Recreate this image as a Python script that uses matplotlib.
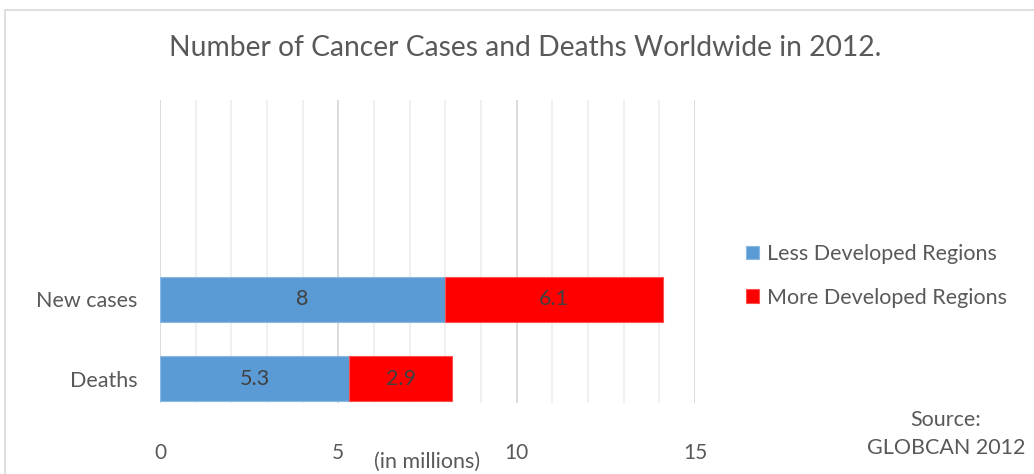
import matplotlib.pyplot as plt
from matplotlib.patches import Rectangle

categories = ["Deaths", "New cases"]
less_developed = [5.3, 8]
more_developed = [2.9, 6.1]
series_names = ["Less Developed Regions", "More Developed Regions"]
xticks = [0, 5, 10, 15]

plt.rcParams['font.family'] = ['Lato', 'DejaVu Sans']
txt = '#595959'

fig = plt.figure(figsize=(10.34, 4.74), dpi=100)
fig.patches.append(Rectangle((5 / 1034, -0.1), 1.2, 1 - 10 / 474 + 0.1, transform=fig.transFigure,
                             fill=False, edgecolor='#d9d9d9', linewidth=1.2))
ax = fig.add_axes([160 / 1034, 1 - 403 / 474, 535 / 1034, 303 / 474])

y = list(range(len(categories)))
b1 = ax.barh(y, less_developed, height=0.57, color='#5b9bd5', edgecolor='#8db8e3', linewidth=0.8,
             label=series_names[0], zorder=3)
b2 = ax.barh(y, more_developed, left=less_developed, height=0.57, color='#ff0000', edgecolor='#ff5050',
             linewidth=0.8, label=series_names[1], zorder=3)
for bars in (b1, b2):
    ax.bar_label(bars, labels=[f"{v:g}" for v in bars.datavalues], label_type='center',
                 color='#404040', fontsize=15.5, zorder=4)

ax.set_xlim(0, 15)
ax.set_ylim(-0.31, 3.525)
ax.set_xticks(xticks)
ax.set_xticks(range(16), minor=True)
ax.set_yticks(y)
ax.set_yticklabels(categories)
ax.tick_params(axis='x', which='both', length=0, pad=29, labelsize=15, labelcolor=txt)
ax.tick_params(axis='y', length=0, pad=16, labelsize=15.5, labelcolor=txt)
ax.grid(axis='x', which='major', color='#d9d9d9', linewidth=1.3, zorder=0)
ax.grid(axis='x', which='minor', color='#eeeeee', linewidth=1.2, zorder=0)
for s in ax.spines.values():
    s.set_visible(False)

fig.text(525 / 1034, 1 - 48 / 474, "Number of Cancer Cases and Deaths Worldwide in 2012.",
         ha='center', va='center', fontsize=20.3, color=txt)
fig.text(427 / 1034, 1 - 462 / 474, "(in millions)", ha='center', va='center', fontsize=15.5, color=txt)
fig.text(1025 / 1034, 1 - 434 / 474, "Source:\nGLOBCAN 2012", ha='right', va='center', fontsize=15.5,
         color=txt, multialignment='center', linespacing=1.45)

handles, labels = ax.get_legend_handles_labels()
fig.legend(handles, labels, loc='center left', bbox_to_anchor=(727 / 1034, 1 - 276 / 474),
           frameon=False, fontsize=15.5, labelcolor=txt, handlelength=0.6, handleheight=0.6,
           handletextpad=0.35, labelspacing=1.1)

fig.savefig('out.png', dpi=100)
